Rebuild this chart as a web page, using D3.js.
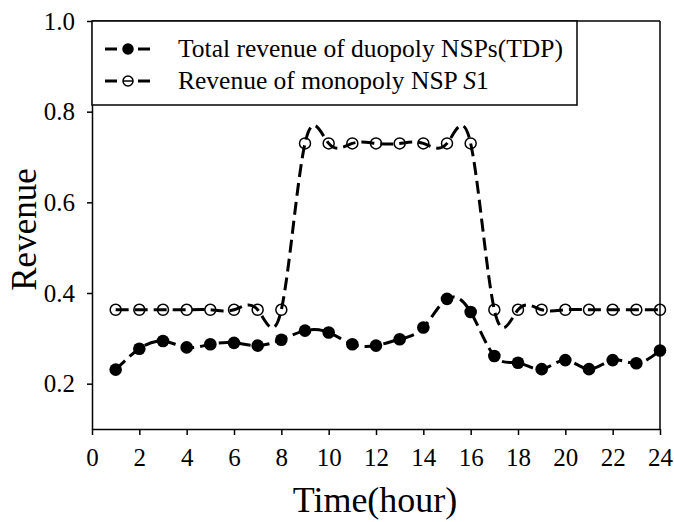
<!DOCTYPE html>
<html>
<head>
<meta charset="utf-8">
<script src="https://cdn.jsdelivr.net/npm/d3@7"></script>
<style>
  body { margin: 0; background: #fff; }
  svg { display: block; }
  text { font-family: "Liberation Serif", "Times New Roman", serif; fill: #000; }
</style>
</head>
<body>
<div id="chart"></div>
<script>
// horas del dia
const hours = [1,2,3,4,5,6,7,8,9,10,11,12,13,14,15,16,17,18,19,20,21,22,23,24]
// ingreso total duopolio (TDP)
const duopolyRevenue = [0.231,0.277,0.294,0.280,0.287,0.290,0.284,0.297,0.317,0.313,0.287,0.284,0.298,0.324,0.387,0.358,0.261,0.246,0.232,0.252,0.232,0.252,0.245,0.273]
// ingreso monopolio S1
const monopolyRevenue = [0.363,0.363,0.363,0.363,0.363,0.363,0.363,0.363,0.730,0.730,0.730,0.730,0.730,0.730,0.730,0.730,0.363,0.363,0.363,0.363,0.363,0.363,0.363,0.363]
const xTicks = [0,2,4,6,8,10,12,14,16,18,20,22,24]
const yTicks = [0.2,0.4,0.6,0.8,1.0]
const legendLabels = ["Total revenue of duopoly NSPs(TDP)", "Revenue of monopoly NSP "]

const WIDTH = 674
const HEIGHT = 522
const margin = { top: 21, right: 14, bottom: 93, left: 92 }
const width = WIDTH - margin.left - margin.right
const height = HEIGHT - margin.top - margin.bottom

const svg = d3.select("#chart")
  .append("svg")
  .attr("width", WIDTH)
  .attr("height", HEIGHT)

const g = svg.append("g").attr("transform", `translate(${margin.left}, ${margin.top})`)

const xScale = d3.scaleLinear().domain([0, 24]).range([0, width])
const yScale = d3.scaleLinear().domain([0.1, 1.0]).range([height, 0])

// Ejes
const xAxis = d3.axisBottom(xScale).tickValues(xTicks).tickFormat(d3.format("d"))
  .tickSizeInner(6).tickSizeOuter(0).tickPadding(13)
const yAxis = d3.axisLeft(yScale).tickValues(yTicks).tickFormat(d3.format(".1f"))
  .tickSizeInner(5).tickSizeOuter(0).tickPadding(12)

const xAxisG = g.append("g").attr("transform", `translate(0, ${height})`).call(xAxis)
const yAxisG = g.append("g").call(yAxis)

;[xAxisG, yAxisG].forEach(ax => {
  ax.selectAll("path, line").attr("stroke", "#000").attr("stroke-width", 1.5)
  ax.selectAll("text").style("font-size", "25px").attr("fill", "#000")
})

// marco superior y derecho
g.append("line").attr("x1", 0).attr("x2", width).attr("y1", 0).attr("y2", 0)
  .attr("stroke", "#000").attr("stroke-width", 1.5)
g.append("line").attr("x1", width).attr("x2", width).attr("y1", 0).attr("y2", height)
  .attr("stroke", "#000").attr("stroke-width", 1.5)

// titulos de ejes
svg.append("text")
  .attr("x", margin.left + width / 2 - 1)
  .attr("y", 512)
  .style("text-anchor", "middle")
  .style("font-size", "36px")
  .text("Time(hour)")

svg.append("text")
  .attr("transform", `translate(36, ${margin.top + yScale(0.54)}) rotate(-90)`)
  .style("text-anchor", "middle")
  .style("font-size", "35px")
  .text("Revenue")

// Lineas
const lineGenerator = d3.line()
  .x(d => xScale(d.hour))
  .y(d => yScale(d.value))
  .curve(d3.curveNatural)

const duoData = hours.map((h, i) => ({ hour: h, value: duopolyRevenue[i] }))
const monoData = hours.map((h, i) => ({ hour: h, value: monopolyRevenue[i] }))

;[duoData, monoData].forEach(data => {
  g.append("path")
    .attr("d", lineGenerator(data))
    .attr("fill", "none")
    .attr("stroke", "#000")
    .attr("stroke-width", 3)
    .attr("stroke-dasharray", "13,6")
})

g.selectAll(".circle-duo")
  .data(duoData)
  .join("circle")
  .attr("class", "circle-duo")
  .attr("cx", d => xScale(d.hour))
  .attr("cy", d => yScale(d.value))
  .attr("r", 6.3)
  .attr("fill", "#000")

g.selectAll(".circle-mono")
  .data(monoData)
  .join("circle")
  .attr("class", "circle-mono")
  .attr("cx", d => xScale(d.hour))
  .attr("cy", d => yScale(d.value))
  .attr("r", 5.5)
  .attr("fill", "none")
  .attr("stroke", "#000")
  .attr("stroke-width", 1.5)

// Leyenda
const legend = g.append("g")
legend.append("rect")
  .attr("x", 0).attr("y", 0)
  .attr("width", 485).attr("height", 84)
  .attr("fill", "#fff")
  .attr("stroke", "#000")
  .attr("stroke-width", 1.5)

const rowsY = [28, 60]
rowsY.forEach((ry, i) => {
  legend.append("line").attr("x1", 13).attr("x2", 25).attr("y1", ry).attr("y2", ry)
    .attr("stroke", "#000").attr("stroke-width", 3)
  legend.append("line").attr("x1", 46).attr("x2", 58).attr("y1", ry).attr("y2", ry)
    .attr("stroke", "#000").attr("stroke-width", 3)
  legend.append("circle").attr("cx", 36).attr("cy", ry).attr("r", 5)
    .attr("fill", i === 0 ? "#000" : "#fff")
    .attr("stroke", "#000").attr("stroke-width", 1.5)
  if (i === 1) {
    legend.append("line").attr("x1", 31).attr("x2", 41).attr("y1", ry).attr("y2", ry)
      .attr("stroke", "#000").attr("stroke-width", 1.5)
  }
  const t = legend.append("text")
    .attr("x", 86).attr("y", ry + 8)
    .style("font-size", "25.5px")
    .text(legendLabels[i])
  if (i === 1) {
    t.append("tspan").style("font-style", "italic").text("S")
    t.append("tspan").text("1")
  }
})
</script>
</body>
</html>
